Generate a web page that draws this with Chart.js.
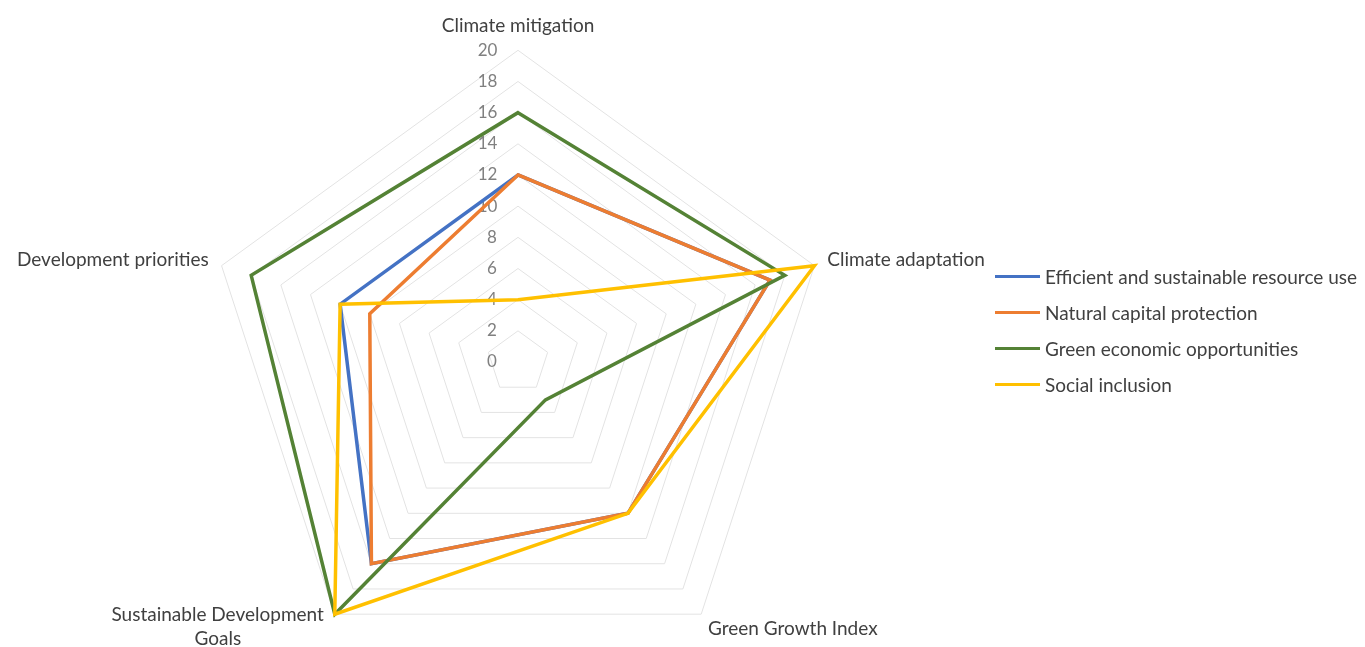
<!DOCTYPE html>
<html>
<head>
<meta charset="utf-8">
<title>Radar</title>
<script src="https://cdn.jsdelivr.net/npm/chart.js@4.4.1/dist/chart.umd.min.js"></script>
<style>
  html, body { margin: 0; padding: 0; width: 1365px; height: 647px; overflow: hidden; background: #fff; }
  #radar { position: absolute; left: -100px; top: 0; }
  #legend { position: absolute; left: 995px; top: 265px; font-family: Lato, sans-serif; font-size: 19px; color: #404040; z-index: 2; }
  #legend .item { display: flex; align-items: center; height: 22px; margin-bottom: 14.3px; white-space: nowrap; }
  #legend .swatch { width: 45px; height: 3px; margin-right: 5px; }
</style>
</head>
<body>
<canvas id="radar" width="1237" height="697"></canvas>
<div id="legend"></div>
<script>
const axisLabels = ['Climate mitigation', 'Climate adaptation', 'Green Growth Index', ['Sustainable Development', 'Goals'], 'Development priorities'];
const seriesNames = ['Efficient and sustainable resource use', 'Natural capital protection', 'Green economic opportunities', 'Social inclusion'];
const seriesColors = ['#4472C4', '#ED7D31', '#548235', '#FFC000'];
const resourceUse = [12, 17, 12, 16, 12];
const naturalCapital = [12, 17, 12, 16, 10];
const greenOpportunities = [16, 18, 3, 20, 18];
const socialInclusion = [4, 20, 12, 20, 12];
const tickLabels = ['0', '2', '4', '6', '8', '10', '12', '14', '16', '18', '20'];

const seriesValues = [resourceUse, naturalCapital, greenOpportunities, socialInclusion];

// Excel draws the last series on top; in Chart.js the lowest order is drawn last
const datasets = seriesValues.map((values, i) => ({
  label: seriesNames[i],
  data: values,
  borderColor: seriesColors[i],
  backgroundColor: seriesColors[i],
  borderWidth: 3.5,
  pointRadius: 0,
  pointHoverRadius: 0,
  fill: false,
  order: seriesValues.length - i
}));

// label geometry, one entry per axis
const labelPadding = [5, 5, 3, -23, 5];
const labelLineHeight = [1.2, 0.2, 0.53, 1.263, 0.2];
// trailing spaces nudge the right-aligned SDG label off its corner and centre "Goals"
const shownLabels = axisLabels.map((l) => Array.isArray(l) ? [l[0] + ' '.repeat(4), l[1] + ' '.repeat(21)] : l);

new Chart(document.getElementById('radar'), {
  type: 'radar',
  data: { labels: shownLabels, datasets: datasets },
  options: {
    responsive: false,
    animation: false,
    plugins: { legend: { display: false }, tooltip: { enabled: false } },
    elements: { line: { tension: 0 } },
    scales: {
      r: {
        min: -0.000001, // keeps the "0" tick label visible
        max: 20,
        ticks: {
          stepSize: 2,
          color: '#808080',
          font: { family: 'Lato', size: 17 },
          showLabelBackdrop: false,
          backdropPadding: 0,
          // trailing spaces push the centred labels left of the axis
          callback: (value, index) => tickLabels[index] + ' '.repeat(10 + 2 * tickLabels[index].length)
        },
        grid: { circular: false, color: '#e3e3e3', lineWidth: 1 },
        angleLines: { display: false },
        pointLabels: {
          color: '#404040',
          padding: (ctx) => labelPadding[ctx.index],
          font: (ctx) => ({ family: 'Lato', size: 19, lineHeight: labelLineHeight[ctx.index] })
        }
      }
    }
  }
});

const legend = document.getElementById('legend');
seriesNames.forEach((name, i) => {
  const item = document.createElement('div');
  item.className = 'item';
  item.innerHTML = '<span class="swatch" style="background:' + seriesColors[i] + '"></span><span>' + name + '</span>';
  legend.appendChild(item);
});
</script>
</body>
</html>
